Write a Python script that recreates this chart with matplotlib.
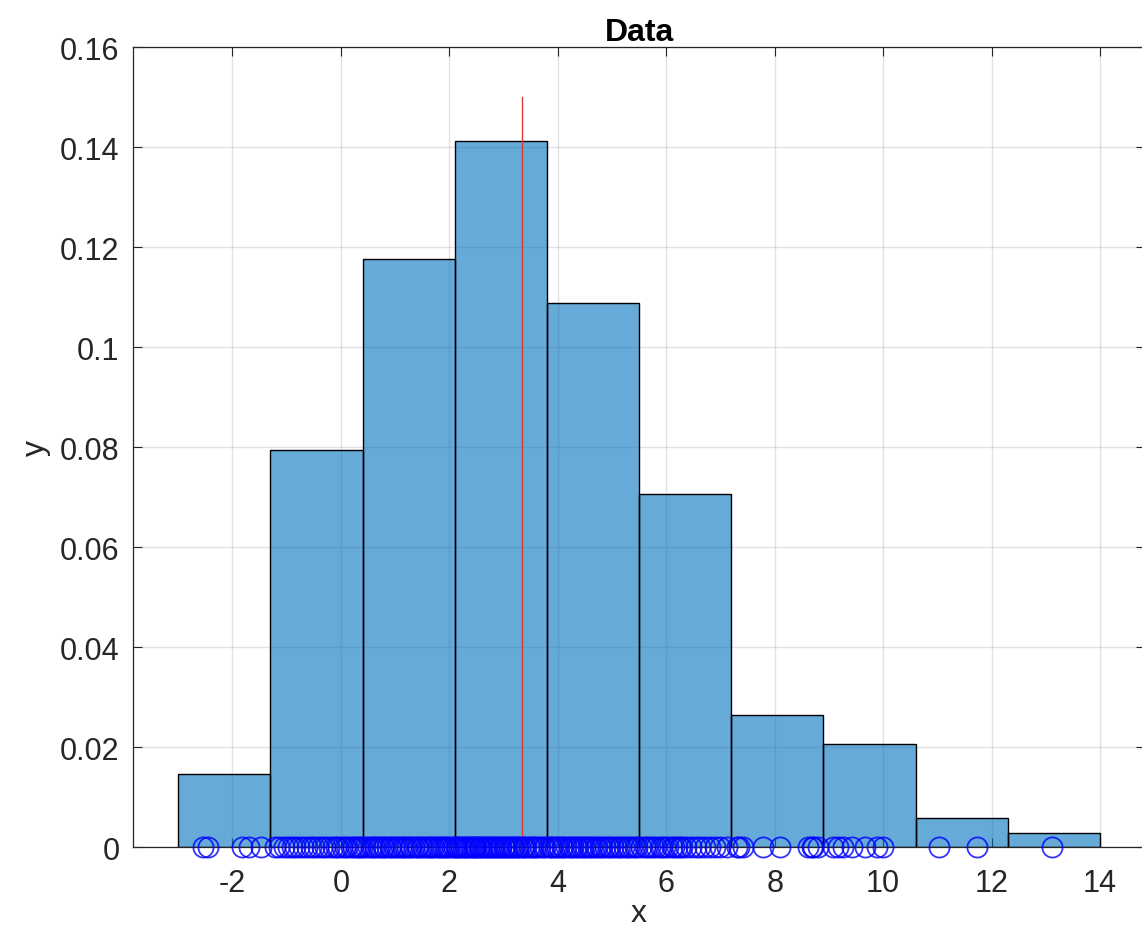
import numpy as np
import matplotlib
matplotlib.use("Agg")
import matplotlib.pyplot as plt
from matplotlib.ticker import FuncFormatter

plt.rcParams.update({
    "font.family": ["Liberation Sans", "DejaVu Sans"],
    "axes.unicode_minus": False,
})

# histogram bins (pdf normalisation, N = 200)
bin_edges = [-3.0, -1.3, 0.4, 2.1, 3.8, 5.5, 7.2, 8.9, 10.6, 12.3, 14.0]
bin_counts = [5, 27, 40, 48, 37, 24, 9, 7, 2, 1]

# sample points plotted on the x axis
pts_left = [-2.55, -2.45, -1.83, -1.70, -1.48]
pts_b2 = [-1.22, -1.15, -1.05, -0.98, -0.90, -0.85, -0.78, -0.70, -0.62,
          -0.55, -0.50, -0.42, -0.35, -0.30, -0.22, -0.15, -0.10, -0.05,
          0.02, 0.08, 0.12, 0.18, 0.22, 0.27, 0.31, 0.35, 0.38]
pts_b3 = [0.45, 0.50, 0.55, 0.60, 0.63, 0.68, 0.72, 0.77, 0.80, 0.85,
          0.90, 0.93, 0.97, 1.02, 1.05, 1.10, 1.14, 1.18, 1.22, 1.27,
          1.30, 1.35, 1.40, 1.43, 1.48, 1.52, 1.57, 1.60, 1.65, 1.68,
          1.72, 1.77, 1.80, 1.85, 1.88, 1.92, 1.96, 2.00, 2.04, 2.08]
pts_b4 = [2.12, 2.15, 2.18, 2.22, 2.25, 2.28, 2.31, 2.35, 2.38, 2.42,
          2.45, 2.48, 2.50, 2.54, 2.57, 2.60, 2.63, 2.67, 2.70, 2.73,
          2.76, 2.80, 2.83, 2.86, 2.90, 2.93, 2.96, 3.00, 3.03, 3.07,
          3.10, 3.14, 3.17, 3.20, 3.24, 3.27, 3.31, 3.35, 3.38, 3.42,
          3.46, 3.50, 3.54, 3.58, 3.62, 3.67, 3.72, 3.77]
pts_b5 = [3.83, 3.87, 3.90, 3.95, 3.98, 4.02, 4.07, 4.10, 4.15, 4.20,
          4.24, 4.28, 4.33, 4.37, 4.42, 4.46, 4.50, 4.55, 4.60, 4.64,
          4.68, 4.73, 4.78, 4.82, 4.87, 4.92, 4.97, 5.02, 5.07, 5.12,
          5.17, 5.22, 5.27, 5.32, 5.37, 5.42, 5.47]
pts_b6 = [5.54, 5.60, 5.65, 5.70, 5.76, 5.82, 5.88, 5.93, 5.98, 6.04,
          6.10, 6.15, 6.20, 6.25, 6.30, 6.36, 6.45, 6.55, 6.63, 6.72,
          6.81, 6.90, 6.99, 7.12]
pts_right = [7.30, 7.35, 7.42, 7.79, 8.10, 8.62, 8.68, 8.71, 8.80,
             9.08, 9.17, 9.26, 9.43, 9.67, 9.89, 10.00,
             11.04, 11.73, 13.11]

data = np.array(pts_left + pts_b2 + pts_b3 + pts_b4 + pts_b5 + pts_b6 + pts_right)
mean_top = 0.15

edges = np.array(bin_edges)
widths = np.diff(edges)
heights = np.array(bin_counts) / (len(data) * widths)

fig = plt.figure(figsize=(11.42, 9.45), dpi=100)
ax = fig.add_axes([0.1167, 0.1023, 0.8859, 0.8466])

axc = (0.15, 0.15, 0.15)
ax.bar(edges[:-1], heights, width=widths, align="edge",
       color="#0072BD", alpha=0.6, edgecolor="none", zorder=2)
ax.bar(edges[:-1], heights, width=widths, align="edge",
       fill=False, edgecolor="black", linewidth=1.0, zorder=3)
ax.plot([data.mean(), data.mean()], [0, mean_top], color="#e0383a",
        linewidth=1.0, zorder=4)
ax.plot(data, np.zeros_like(data), "o", color="blue", markerfacecolor="none",
        markersize=14.5, markeredgewidth=1.3, alpha=0.8, clip_on=False,
        zorder=5)

ax.set_xlim(-3.83, 14.83)
ax.set_ylim(0, 0.16)
ax.set_xticks(np.arange(-2, 15, 2))
ax.set_yticks(np.arange(0, 0.161, 0.02))
ax.yaxis.set_major_formatter(FuncFormatter(lambda v, p: "%g" % round(v, 4)))

ax.grid(True, color=axc, alpha=0.13, linewidth=1.0, zorder=0)
ax.set_axisbelow(True)
ax.tick_params(direction="in", top=True, right=True, length=6.5, width=0.8,
               color=axc, labelcolor=axc, labelsize=22)
ax.tick_params(axis="x", pad=15)
ax.tick_params(axis="y", pad=10)
for s in ax.spines.values():
    s.set_color(axc)
    s.set_linewidth(0.9)

ax.set_title("Data", fontsize=23, fontweight="bold", color="black", pad=5)
ax.set_xlabel("x", fontsize=23, color=axc, labelpad=0)
ax.set_ylabel("y", fontsize=23, color=axc, labelpad=6)

fig.savefig("out.png", dpi=100)
